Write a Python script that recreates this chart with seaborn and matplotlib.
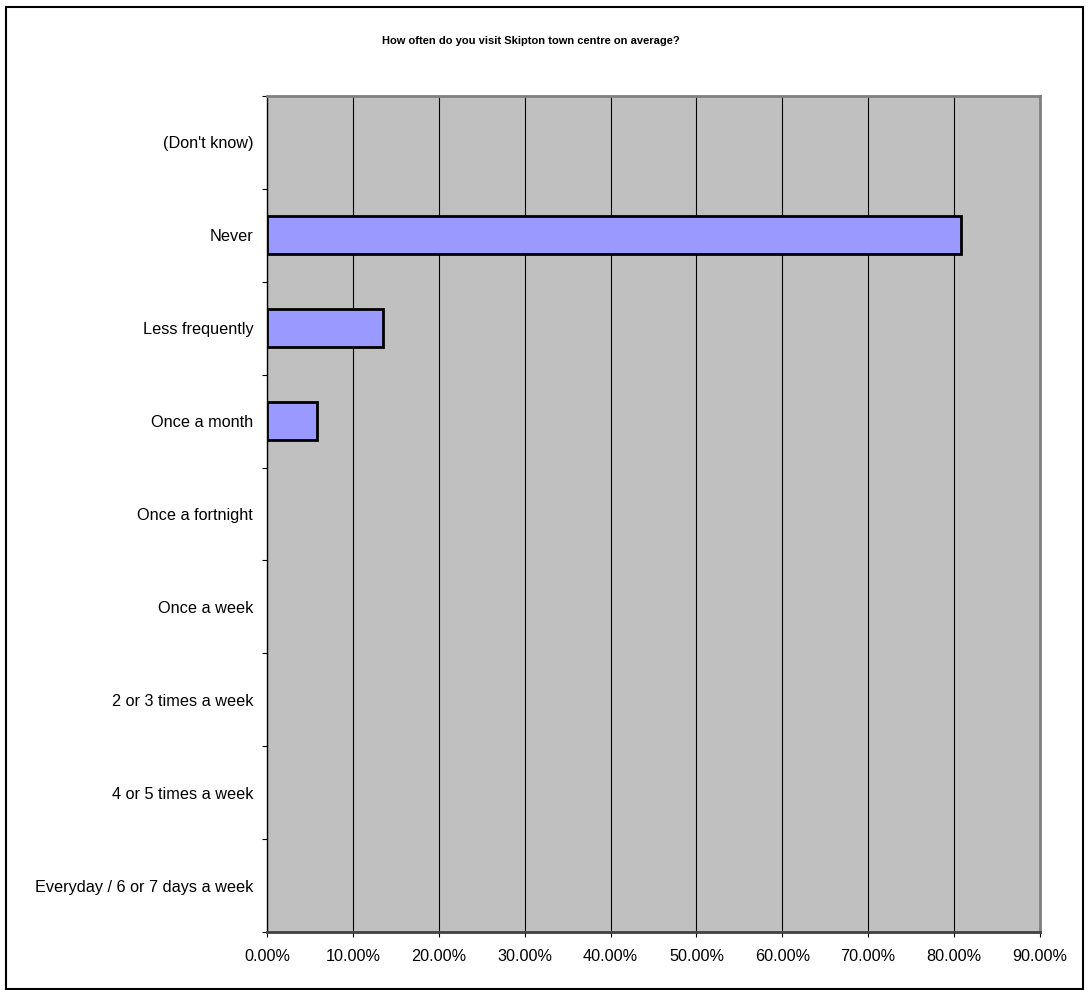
import matplotlib
matplotlib.use("Agg")
import matplotlib.pyplot as plt
import matplotlib.ticker as mticker
import seaborn as sns
import pandas as pd

sns.set_style("white")
plt.rcParams['font.family'] = ['Liberation Sans', 'DejaVu Sans']
plt.rcParams['text.color'] = 'black'
plt.rcParams['xtick.color'] = 'black'
plt.rcParams['ytick.color'] = 'black'

answers = ["(Don't know)", "Never", "Less frequently", "Once a month",
           "Once a fortnight", "Once a week", "2 or 3 times a week",
           "4 or 5 times a week", "Everyday / 6 or 7 days a week"]
percent = [0.0, 80.8, 13.5, 5.8, 0.0, 0.0, 0.0, 0.0, 0.0]
x_ticks = [0, 10, 20, 30, 40, 50, 60, 70, 80, 90]

df = pd.DataFrame({'answer': answers, 'percent': percent})

fig = plt.figure(figsize=(10.9, 9.9), dpi=100)
ax = fig.add_axes([0.245, 0.0586, 0.709, 0.8444])
ax.set_facecolor('#C0C0C0')

# zero-valued rows draw nothing in the original
shown = df[df['percent'] > 0]
sns.barplot(data=shown, x='percent', y='answer', order=answers, color='#9999FF',
            edgecolor='black', linewidth=2, width=0.41, saturation=1, ax=ax, zorder=3)

ax.set_xlim(0, 90)
ax.set_ylim(len(answers) - 0.5, -0.5)
ax.set_xticks(x_ticks)
ax.xaxis.set_major_formatter(mticker.FuncFormatter(lambda v, p: f"{v:.2f}%"))
ax.grid(axis='x', color='black', linewidth=0.8, zorder=0)
ax.set_axisbelow(True)

ax.set_yticks(range(len(answers)))
ax.set_yticks([i - 0.5 for i in range(len(answers) + 1)], minor=True)
ax.tick_params(axis='y', which='major', length=0, pad=10, labelsize=11.7,
               labelcolor='black')
ax.tick_params(axis='y', which='minor', length=3.6, width=0.8, color='black', left=True)
ax.tick_params(axis='x', which='major', length=3.6, width=0.8, color='black',
               bottom=True, pad=8.5, labelsize=11.7, labelcolor='black')

ax.set_xlabel('')
ax.set_ylabel('')

for side in ['top', 'right']:
    ax.spines[side].set_color('#808080')
    ax.spines[side].set_linewidth(2)
ax.spines['bottom'].set_color('#404040')
ax.spines['bottom'].set_linewidth(2)
ax.spines['left'].set_color('black')
ax.spines['left'].set_linewidth(1)

fig.text(0.487, 0.959, 'How often do you visit Skipton town centre on average?',
         ha='center', va='center', fontsize=8, fontweight='bold', color='black')

border = plt.Rectangle((6 / 1090, 0.001), 1077 / 1090, 1 - 7 / 990 - 0.001,
                       transform=fig.transFigure, fill=False,
                       edgecolor='black', linewidth=1.5)
fig.patches.append(border)

fig.savefig('out.png', dpi=100)
